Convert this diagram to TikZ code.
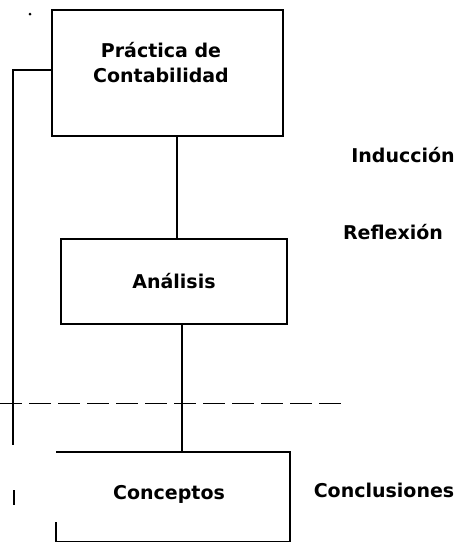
\documentclass[tikz,border=0pt]{standalone}
\usepackage{fontspec}
\setmainfont{DejaVu Sans}
\usepackage{tikz}
\usetikzlibrary{positioning}

\begin{document}
\begin{tikzpicture}[
            x=1pt, y=-1pt,
            line width=2pt,
            every node/.style={font=\bfseries\fontsize{19}{25}\selectfont}, % Text in all nodes
            stage/.style={draw, rectangle, align=center, inner sep=0pt}, % Boxes of the steps
            side/.style={anchor=center} % Labels on the right
            ]

                \useasboundingbox (0,0) rectangle (456,542);

                % Boxes of the three steps
                \node[stage, minimum width=231pt, minimum height=126pt] (practica) at (167.5,73) {};
                \node[align=center] (practicatext) at (161,63) {Práctica de\\Contabilidad};
                \node[stage, minimum width=226pt, minimum height=85pt] (analisis) at (174,281) {Análisis};
                \node[minimum width=232pt, minimum height=88pt] (conceptos) at (173,497) {};
                \node (conceptostext) at (169,494) {Conceptos};
                \draw (conceptos.south west) ++(0,-20) -- (conceptos.south west) -- (conceptos.south east)
                    -- (conceptos.north east) -- (conceptos.north west);

                % Connectors between the boxes
                \draw ([xshift=9.5pt]practica.south) -- ([xshift=3pt]analisis.north);
                \draw ([xshift=8pt]analisis.south) -- ([xshift=9pt]conceptos.north);

                % Line back on the left
                \coordinate (backtop) at (13,70);
                \coordinate (backend) at (13,445);
                \draw (practica.west |- backtop) -- (backtop) -- (backend);
                \coordinate (markA) at (14,490);
                \coordinate (markB) at (14,505);
                \draw (markA) -- (markB);

                % Dashed divide
                \coordinate (divl) at (0,403);
                \coordinate (divr) at (345,403);
                \draw[line width=1pt, dash pattern=on 22pt off 7pt] (divl) -- (divr);

                % Labels on the right
                \node[side] (induccion) at (403,155) {Inducción};
                \node[side] (reflexion) at (393,232) {Reflexión};
                \node[side] (conclusiones) at (384,490) {Conclusiones};

                \fill (30,14) circle (1.5pt);

            \end{tikzpicture}
\end{document}
